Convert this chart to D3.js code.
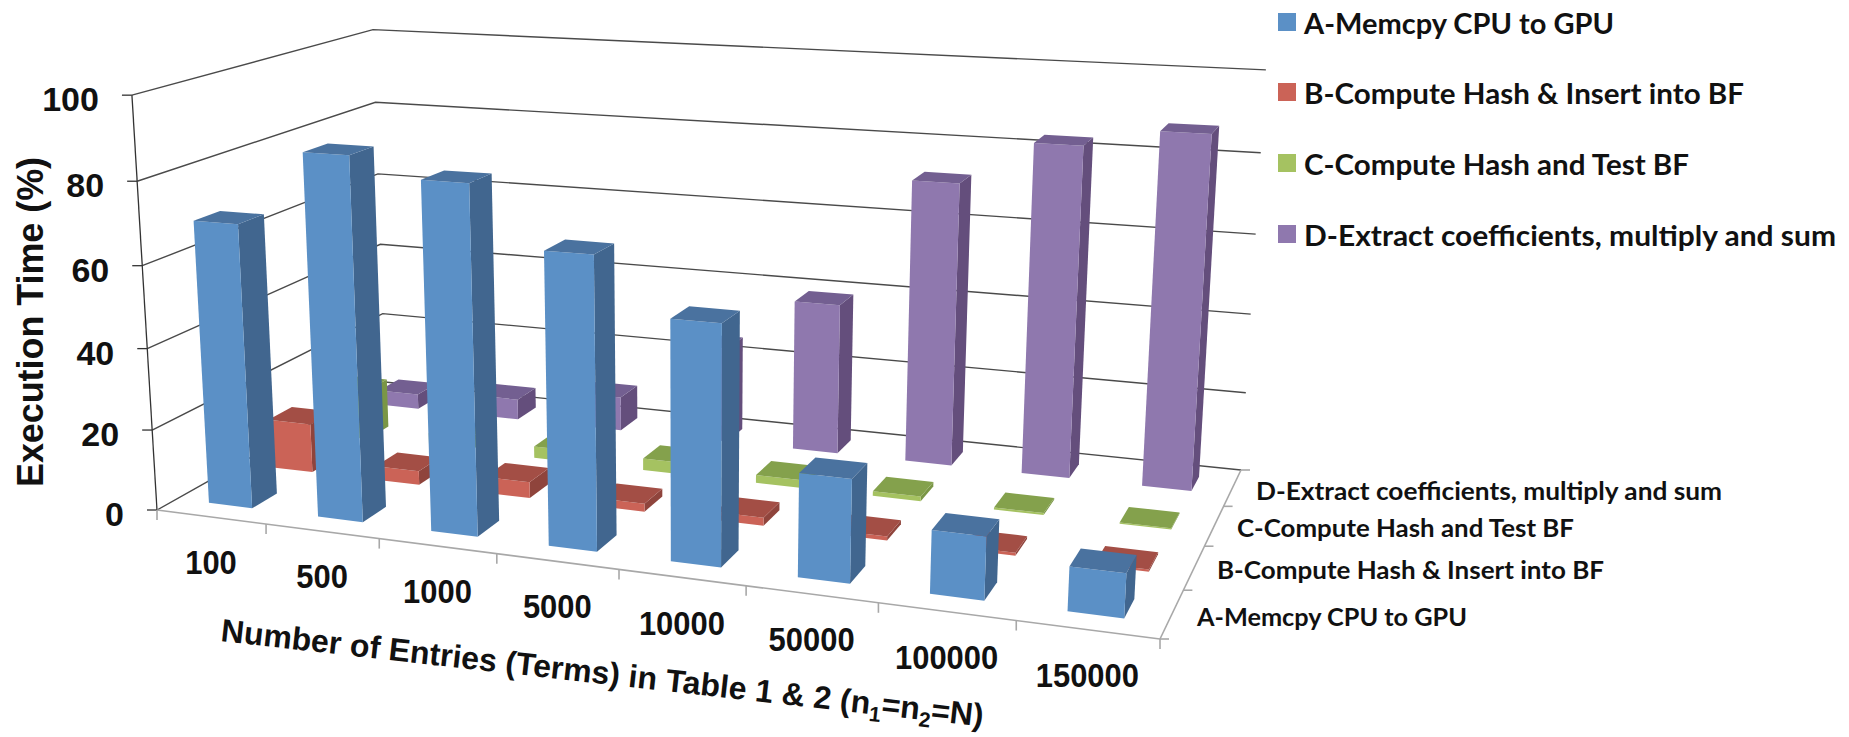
<!DOCTYPE html>
<html>
<head>
<meta charset="utf-8">
<script src="https://cdnjs.cloudflare.com/ajax/libs/d3/7.8.5/d3.min.js"></script>
<style>
html,body{margin:0;padding:0;background:#fff;}
svg{display:block;}
text{fill:#111;}
.arial{font-family:"Liberation Sans",Arial,sans-serif;font-weight:700;}
.cal{font-family:Lato,"Open Sans",sans-serif;font-weight:700;}
</style>
</head>
<body>
<svg id="chart" width="1849" height="737"></svg>
<script>
// Categories and series of the stacked-share breakdown
const categories = ["100","500","1000","5000","10000","50000","100000","150000"];
const seriesNames = ["A-Memcpy CPU to GPU","B-Compute Hash & Insert into BF","C-Compute Hash and Test BF","D-Extract coefficients, multiply and sum"];
const memcpy   = [69.5, 87.5, 83, 69, 56, 24, 14.5, 10];
const insertBF = [12.5, 3.5, 4, 2, 2, 1, 0.7, 0.5];
const testBF   = [13, 3.5, 3, 3, 2, 1.2, 0.5, 0.3];
const extract  = [4, 5.5, 9, 25, 39, 72, 83, 87.5];
const seriesValues = [memcpy, insertBF, testBF, extract];
const valueTicks = [0,20,40,60,80,100];

// Front, side and top shades per series
const frontColors = ["#5b90c6","#cb6357","#a5c261","#8f78ae"];
const sideColors  = ["#41668f","#8f443c","#7a9646","#644e7c"];
const topColors   = ["#4a729f","#a34e45","#84a14c","#735f91"];

// Box corners of the plot in page pixels, which define the perspective
const corner = {
  floorFrontLeft:[157,510], floorFrontRight:[1160,639], floorBackRight:[1241,470], floorBackLeft:[385,382],
  topFrontLeft:[133,95], topBackRight:[1266,73], topBackLeft:[372,27]
};

// Solve a small linear system by Gaussian elimination
function solve(A,b){
  const n=b.length,M=A.map((r,i)=>[...r,b[i]]);
  for(let i=0;i<n;i++){
    let p=i;for(let r=i+1;r<n;r++)if(Math.abs(M[r][i])>Math.abs(M[p][i]))p=r;
    [M[i],M[p]]=[M[p],M[i]];
    for(let r=0;r<n;r++)if(r!==i){const f=M[r][i]/M[i][i];for(let k=i;k<=n;k++)M[r][k]-=f*M[i][k];}
  }
  return M.map((r,i)=>r[n]/r[i]);
}

// Projective map from the unit box (u along categories, v into depth, w up) to the page.
// The floor is an exact quad-to-square homography; the height column is a least-squares
// fit through the three top corners.
function makeProjection(c){
  const [x0,y0]=c.floorFrontLeft,[x1,y1]=c.floorFrontRight,[x2,y2]=c.floorBackRight,[x3,y3]=c.floorBackLeft;
  const dx1=x1-x2,dx2=x3-x2,sx=x0-x1+x2-x3,dy1=y1-y2,dy2=y3-y2,sy=y0-y1+y2-y3;
  const det=dx1*dy2-dx2*dy1;
  const g=(sx*dy2-dx2*sy)/det,h=(dx1*sy-sx*dy1)/det;
  const a=x1-x0+g*x1,b=x3-x0+h*x3,d=y1-y0+g*y1,e=y3-y0+h*y3;
  const rows=[],rhs=[];
  [[0,0,c.topFrontLeft],[1,1,c.topBackRight],[0,1,c.topBackLeft]].forEach(([u,v,[px,py]])=>{
    const W=g*u+h*v+1;
    rows.push([1,0,-px]);rhs.push(px*W-(a*u+b*v+x0));
    rows.push([0,1,-py]);rhs.push(py*W-(d*u+e*v+y0));
  });
  const N=[0,1,2].map(i=>[0,1,2].map(j=>d3.sum(rows,r=>r[i]*r[j])));
  const R=[0,1,2].map(i=>d3.sum(rows,(r,k)=>r[i]*rhs[k]));
  const [a3,b3,c3]=solve(N,R);
  return (u,v,w)=>{
    const W=g*u+h*v+c3*w+1;
    return [(a*u+b*v+a3*w+x0)/W,(d*u+e*v+b3*w+y0)/W];
  };
}
const project = makeProjection(corner);

const xBand = d3.scaleBand().domain(categories).range([0,1]).paddingInner(0.6).paddingOuter(0.3);
const zBand = d3.scaleBand().domain(seriesNames).range([0,1]).paddingInner(0.6).paddingOuter(0.3);
const yScale = d3.scaleLinear().domain([0,100]).range([0,1]);

const svg = d3.select("#chart");
const line = d3.line();
const gridColor="#4a4a4a", axisColor="#a8a8a8";

// Walls: one polyline per value tick, running along the left wall then the back wall
const grid = svg.append("g");
grid.selectAll("path").data(valueTicks).join("path")
  .attr("d",t=>line([project(0,0,yScale(t)),project(0,1,yScale(t)),project(1,1,yScale(t))]))
  .attr("fill","none").attr("stroke",gridColor).attr("stroke-width",1.4);

// Value axis
const yAxis = svg.append("g");
yAxis.append("path").attr("d",line([project(0,0,0),project(0,0,1)])).attr("stroke","#333").attr("stroke-width",1.3).attr("fill","none");
yAxis.selectAll("line").data(valueTicks).join("line")
  .attr("x1",t=>project(0,0,yScale(t))[0]-10).attr("x2",t=>project(0,0,yScale(t))[0])
  .attr("y1",t=>project(0,0,yScale(t))[1]).attr("y2",t=>project(0,0,yScale(t))[1])
  .attr("stroke","#333").attr("stroke-width",1.3);
yAxis.selectAll("text").data(valueTicks).join("text").attr("class","arial")
  .attr("x",t=>project(0,0,yScale(t))[0]-33).attr("y",t=>project(0,0,yScale(t))[1]+16)
  .attr("text-anchor","end").attr("font-size",34).text(d=>d);

// Category axis along the front edge of the floor
const xAxis = svg.append("g");
xAxis.append("path").attr("d",line([project(0,0,0),project(1,0,0)])).attr("stroke",axisColor).attr("stroke-width",1.6).attr("fill","none");
const edgeTicks = d3.range(categories.length+1).map(i=>i*xBand.step());
xAxis.selectAll("line").data(edgeTicks).join("line")
  .attr("x1",u=>project(u,0,0)[0]).attr("x2",u=>project(u,0,0)[0])
  .attr("y1",u=>project(u,0,0)[1]).attr("y2",u=>project(u,0,0)[1]+10)
  .attr("stroke",axisColor).attr("stroke-width",1.6);
xAxis.selectAll("text").data(categories).join("text").attr("class","arial")
  .attr("x",c=>project(xBand(c)+xBand.bandwidth()/2,0,0)[0])
  .attr("y",c=>project(xBand(c)+xBand.bandwidth()/2,0,0)[1]+57)
  .attr("text-anchor","middle").attr("font-size",34)
  .attr("textLength",c=>c.length*17.2).attr("lengthAdjust","spacingAndGlyphs").text(d=>d);

// Depth axis along the right edge of the floor
const zAxis = svg.append("g");
zAxis.append("path").attr("d",line([project(1,0,0),project(1,1,0)])).attr("stroke",axisColor).attr("stroke-width",1.6).attr("fill","none");
const depthTicks = d3.range(seriesNames.length+1).map(i=>i*zBand.step());
zAxis.selectAll("line").data(depthTicks).join("line")
  .attr("x1",v=>project(1,v,0)[0]).attr("x2",v=>project(1,v,0)[0]+9)
  .attr("y1",v=>project(1,v,0)[1]).attr("y2",v=>project(1,v,0)[1])
  .attr("stroke",axisColor).attr("stroke-width",1.6);
const depthLabelWidths=[270,387,337,466];
const depthLabelPos=[[1197,626],[1217,579],[1237,537],[1256,500]];
zAxis.selectAll("text").data(seriesNames).join("text").attr("class","cal")
  .attr("x",(d,i)=>depthLabelPos[i][0]).attr("y",(d,i)=>depthLabelPos[i][1])
  .attr("font-size",24).attr("font-weight",400)
  .attr("textLength",(d,i)=>depthLabelWidths[i]).attr("lengthAdjust","spacingAndGlyphs").text(d=>d);

// Bars, farthest row first and left to right within a row
const bars = svg.append("g");
d3.range(seriesNames.length-1,-1,-1).forEach(si=>{
  const name=seriesNames[si];
  const v0=zBand(name),v1=v0+zBand.bandwidth();
  categories.forEach((cat,ci)=>{
    const u0=xBand(cat),u1=u0+xBand.bandwidth(),h=yScale(seriesValues[si][ci]);
    const g=bars.append("g");
    g.append("path").attr("fill",sideColors[si])
      .attr("d",line([project(u1,v0,0),project(u1,v1,0),project(u1,v1,h),project(u1,v0,h)])+"Z");
    g.append("path").attr("fill",frontColors[si])
      .attr("d",line([project(u0,v0,0),project(u1,v0,0),project(u1,v0,h),project(u0,v0,h)])+"Z");
    g.append("path").attr("fill",topColors[si])
      .attr("d",line([project(u0,v0,h),project(u1,v0,h),project(u1,v1,h),project(u0,v1,h)])+"Z");
  });
});

// Axis titles
svg.append("text").attr("class","arial").attr("font-size",37)
  .attr("transform","translate(43,322) rotate(-90)").attr("text-anchor","middle")
  .attr("textLength",330).attr("lengthAdjust","spacingAndGlyphs").text("Execution Time (%)");
const xTitle = svg.append("text").attr("class","arial").attr("font-size",32)
  .attr("transform","translate(220,641) rotate(6.4)");
xTitle.append("tspan").text("Number of Entries (Terms) in Table 1 & 2 (n");
xTitle.append("tspan").attr("font-size",21).attr("dy",7).text("1");
xTitle.append("tspan").attr("dy",-7).text("=n");
xTitle.append("tspan").attr("font-size",21).attr("dy",7).text("2");
xTitle.append("tspan").attr("dy",-7).text("=N)");

// Legend
const legendY=[13,83,154,225];
const legendWidths=[310,440,385,532];
const legend = svg.append("g");
legend.selectAll("rect").data(seriesNames).join("rect")
  .attr("x",1278).attr("y",(d,i)=>legendY[i]).attr("width",18).attr("height",18)
  .attr("fill",(d,i)=>frontColors[i]);
legend.selectAll("text").data(seriesNames).join("text").attr("class","cal")
  .attr("x",1304).attr("y",(d,i)=>legendY[i]+21).attr("font-size",28)
  .attr("textLength",(d,i)=>legendWidths[i]).attr("lengthAdjust","spacingAndGlyphs").text(d=>d);
</script>
</body>
</html>
